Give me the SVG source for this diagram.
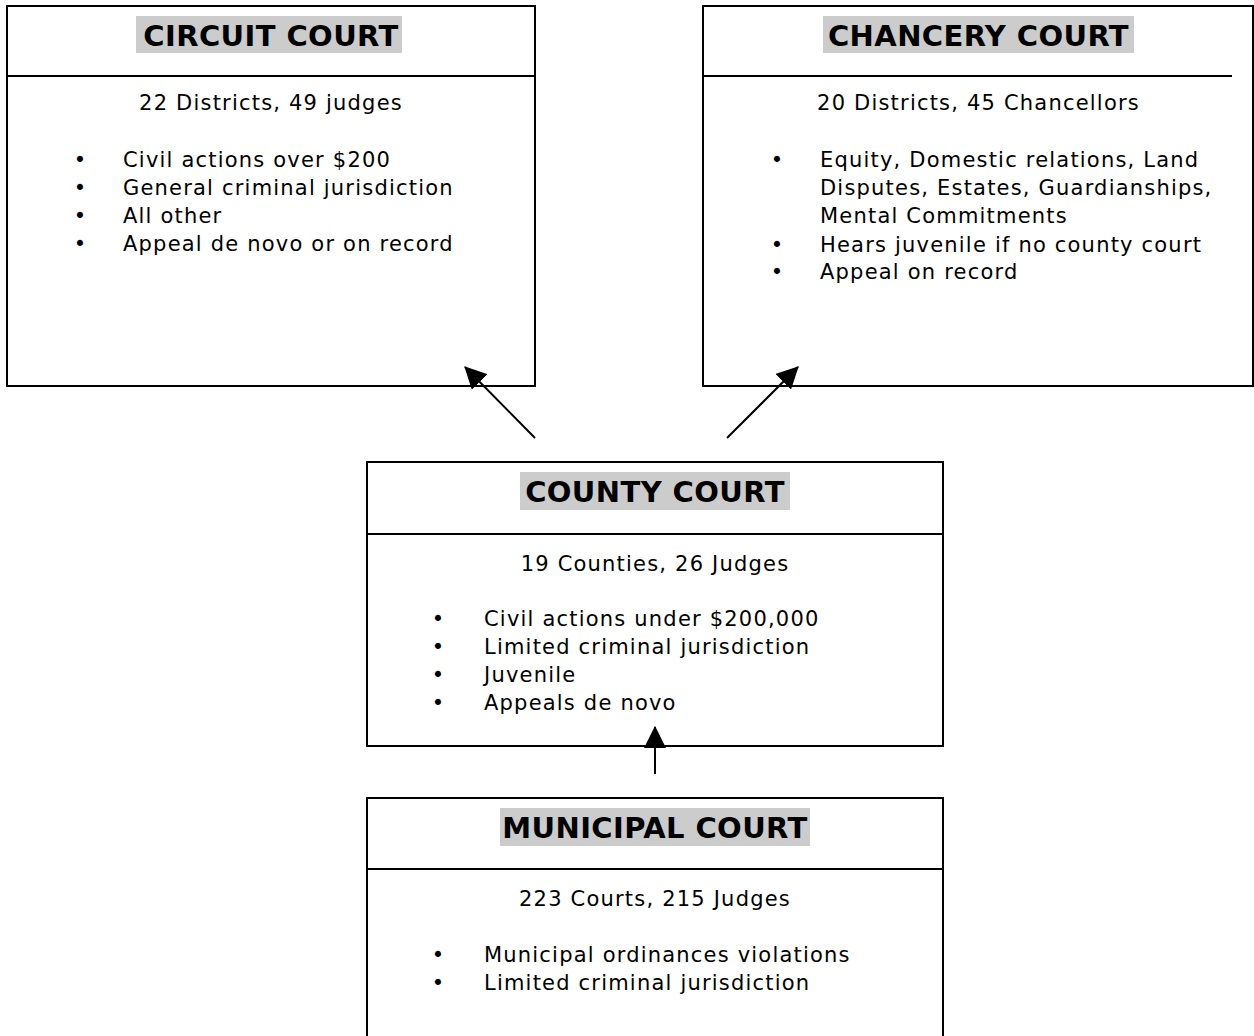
<svg xmlns="http://www.w3.org/2000/svg" width="1254" height="1036" viewBox="0 0 1254 1036">
<style>
.box{fill:#fff;stroke:#000;stroke-width:2}
.div{stroke:#000;stroke-width:2}
.hl{fill:#cccccc}
.title{font-family:"DejaVu Sans",sans-serif;font-weight:bold;font-size:29px;fill:#000;text-anchor:middle;letter-spacing:0.4px}
.sub{font-family:"DejaVu Sans",sans-serif;font-size:21px;fill:#000;text-anchor:middle;letter-spacing:1.2px}
.txt{font-family:"DejaVu Sans",sans-serif;font-size:21px;fill:#000;letter-spacing:1.2px}
.bul{font-family:"DejaVu Sans",sans-serif;font-size:21px;fill:#000;text-anchor:middle}
.conn{stroke:#000;stroke-width:2;fill:none}
</style>
<defs>
<marker id="ah" viewBox="0 0 20 20" refX="19" refY="10" markerWidth="22" markerHeight="22" markerUnits="userSpaceOnUse" orient="auto">
<path d="M0,0 L20,10 L0,20 Z" fill="#000"/>
</marker>
</defs>
<g id="circuit">
<rect class="box" x="7" y="6" width="528" height="380"/>
<line class="div" x1="7" y1="76" x2="535" y2="76"/>
<rect class="hl" x="136" y="16" width="266" height="37"/>
<text class="title" x="271" y="46">CIRCUIT COURT</text>
<text class="sub" x="271" y="110">22 Districts, 49 judges</text>
<text class="bul" x="80" y="167">•</text><text class="txt" x="123" y="167">Civil actions over $200</text>
<text class="bul" x="80" y="195">•</text><text class="txt" x="123" y="195">General criminal jurisdiction</text>
<text class="bul" x="80" y="223">•</text><text class="txt" x="123" y="223">All other</text>
<text class="bul" x="80" y="251">•</text><text class="txt" x="123" y="251">Appeal de novo or on record</text>
</g>
<g id="chancery">
<rect class="box" x="703" y="6" width="550" height="380"/>
<line class="div" x1="703" y1="76" x2="1232" y2="76"/>
<rect class="hl" x="823" y="16" width="311" height="37"/>
<text class="title" x="978.5" y="46">CHANCERY COURT</text>
<text class="sub" x="978.5" y="110">20 Districts, 45 Chancellors</text>
<text class="bul" x="777" y="167">•</text><text class="txt" x="820" y="167">Equity, Domestic relations, Land</text>
<text class="txt" x="820" y="195">Disputes, Estates, Guardianships,</text>
<text class="txt" x="820" y="223">Mental Commitments</text>
<text class="bul" x="777" y="252">•</text><text class="txt" x="820" y="252">Hears juvenile if no county court</text>
<text class="bul" x="777" y="279">•</text><text class="txt" x="820" y="279">Appeal on record</text>
</g>
<g id="county">
<rect class="box" x="367" y="462" width="576" height="284"/>
<line class="div" x1="367" y1="534" x2="943" y2="534"/>
<rect class="hl" x="520" y="472" width="270" height="38"/>
<text class="title" x="655" y="502">COUNTY COURT</text>
<text class="sub" x="655" y="571">19 Counties, 26 Judges</text>
<text class="bul" x="438" y="626">•</text><text class="txt" x="484" y="626">Civil actions under $200,000</text>
<text class="bul" x="438" y="654">•</text><text class="txt" x="484" y="654">Limited criminal jurisdiction</text>
<text class="bul" x="438" y="682">•</text><text class="txt" x="484" y="682">Juvenile</text>
<text class="bul" x="438" y="710">•</text><text class="txt" x="484" y="710">Appeals de novo</text>
</g>
<g id="municipal">
<rect class="box" x="367" y="798" width="576" height="260"/>
<line class="div" x1="367" y1="869" x2="943" y2="869"/>
<rect class="hl" x="500" y="808" width="310" height="38"/>
<text class="title" x="655" y="838">MUNICIPAL COURT</text>
<text class="sub" x="655" y="906">223 Courts, 215 Judges</text>
<text class="bul" x="438" y="962">•</text><text class="txt" x="484" y="962">Municipal ordinances violations</text>
<text class="bul" x="438" y="990">•</text><text class="txt" x="484" y="990">Limited criminal jurisdiction</text>
</g>
<g id="connectors">
<line class="conn" x1="535" y1="438" x2="465" y2="367" marker-end="url(#ah)"/>
<line class="conn" x1="727" y1="438" x2="798" y2="367" marker-end="url(#ah)"/>
<line class="conn" x1="655" y1="774" x2="655" y2="727" marker-end="url(#ah)"/>
</g>
</svg>
